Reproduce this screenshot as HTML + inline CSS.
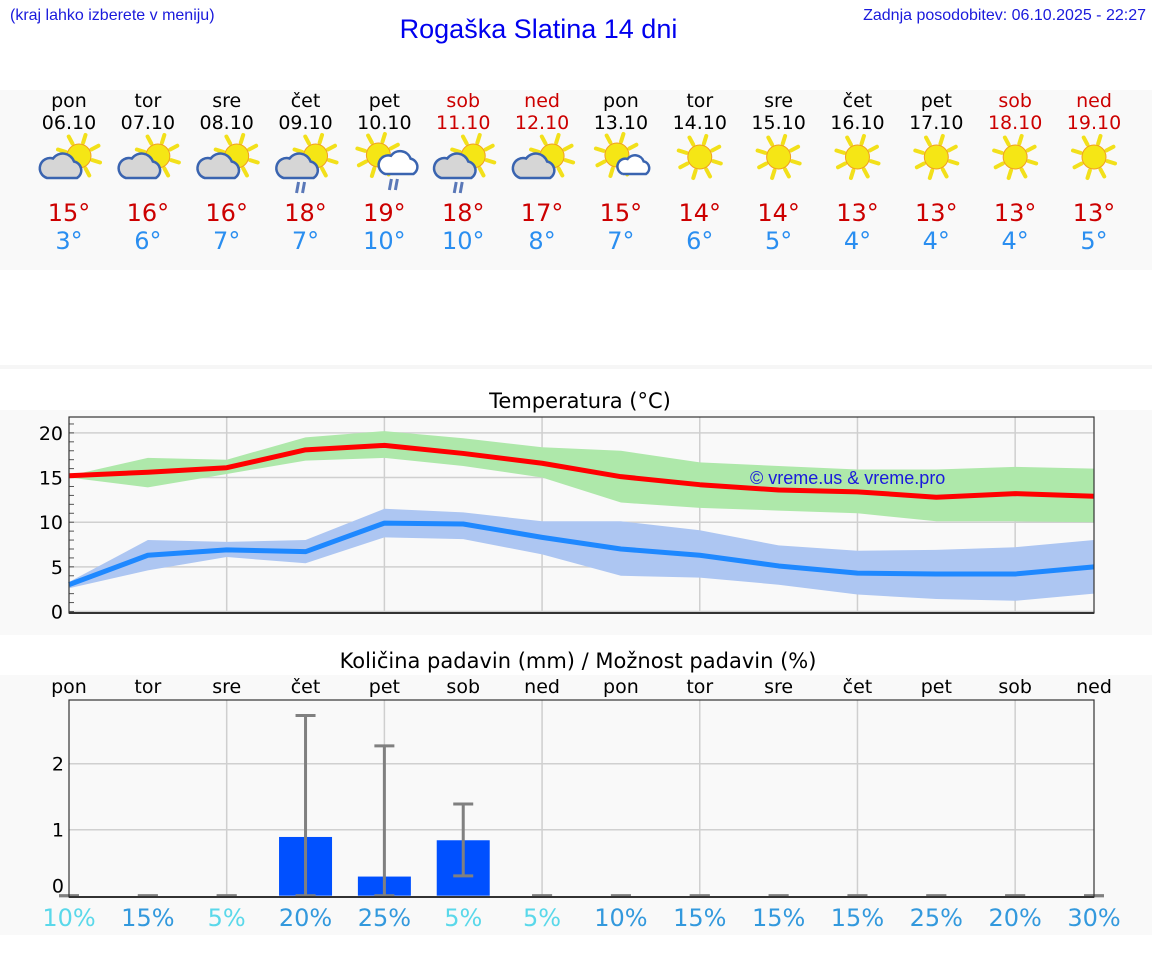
<!DOCTYPE html>
<html><head><meta charset="utf-8">
<style>
body{margin:0;width:1152px;height:975px;background:#fff;overflow:hidden;position:relative;font-family:"DejaVu Sans","Liberation Sans",sans-serif}
.h{position:absolute;font-family:"Liberation Sans",sans-serif;color:#1a1adc}
svg{position:absolute;left:0;top:0}
</style></head><body>
<div class="h" style="left:10px;top:7px;font-size:16px">(kraj lahko izberete v meniju)</div>
<div class="h" style="left:0;width:1077px;text-align:center;top:14px;font-size:27px;color:#0000ee">Rogaška Slatina 14 dni</div>
<div class="h" style="right:6px;top:7px;font-size:16px">Zadnja posodobitev: 06.10.2025 - 22:27</div>
<svg id="c" width="1152" height="975"></svg>
<script>
const days=["pon","tor","sre","čet","pet","sob","ned","pon","tor","sre","čet","pet","sob","ned"];
const dates=["06.10","07.10","08.10","09.10","10.10","11.10","12.10","13.10","14.10","15.10","16.10","17.10","18.10","19.10"];
const icons=["pc","pc","pc","pcr","scr","pcr","pc","sc","s","s","s","s","s","s"];
const tMaxLbl=[15,16,16,18,19,18,17,15,14,14,13,13,13,13];
const tMinLbl=[3,6,7,7,10,10,8,7,6,5,4,4,4,5];
const maxLine=[15.2,15.6,16.1,18.1,18.6,17.7,16.6,15.1,14.2,13.6,13.4,12.8,13.2,12.9];
const maxHi=[15.2,17.2,17.0,19.5,20.2,19.4,18.4,18.0,16.7,16.3,15.9,15.9,16.2,16.0];
const maxLo=[15.0,13.9,15.4,16.9,17.2,16.3,15.0,12.2,11.6,11.3,11.0,10.1,10.1,10.0];
const minLine=[3.0,6.3,6.9,6.7,9.9,9.8,8.3,7.0,6.3,5.1,4.3,4.2,4.2,5.0];
const minHi=[3.3,8.0,7.8,8.0,11.5,11.1,10.1,10.1,9.1,7.4,6.8,6.9,7.2,8.0];
const minLo=[2.6,4.6,6.1,5.4,8.3,8.1,6.4,4.0,3.8,3.0,1.9,1.4,1.2,2.0];
const precip=[0,0,0,0.89,0.29,0.84,0,0,0,0,0,0,0,0];
const precipHi=[0,0,0,2.73,2.27,1.39,0,0,0,0,0,0,0,0];
const precipLo=[0,0,0,0,0,0.3,0,0,0,0,0,0,0,0];
const prob=[10,15,5,20,25,5,5,10,15,15,15,25,20,30];
const probLight=[1,0,1,0,0,1,1,0,0,0,0,0,0,0];
const tTicks=[0,5,10,15,20];
const pTicks=[0,1,2];

const S=document.getElementById('c');const NS="http://www.w3.org/2000/svg";
function el(t,a,p){const e=document.createElementNS(NS,t);for(const k in a)e.setAttribute(k,a[k]);(p||S).appendChild(e);return e;}
function tx(s,a,p){const e=el('text',a,p);e.textContent=s;return e;}
const X=i=>69+i*(1025/13);
const TY=v=>611.5-v*8.93;
const PY=v=>895.7-v*66;
const red=i=>(days[i]=="sob"||days[i]=="ned");

let b;
b=el('rect',{x:0,y:90,width:1152,height:180,fill:'#f9f9f9'});
el('rect',{x:0,y:365,width:1152,height:4,fill:'#f6f6f6'});
b=el('rect',{x:0,y:410,width:1152,height:225,fill:'#f9f9f9'});
b=el('rect',{x:0,y:675,width:1152,height:260,fill:'#f9f9f9'});

function sun(g,cx,cy,r){
  for(let k=0;k<8;k++){const a=k*Math.PI/4+0.3;el('line',{x1:cx+Math.cos(a)*(r+2),y1:cy+Math.sin(a)*(r+2),x2:cx+Math.cos(a)*(r+10),y2:cy+Math.sin(a)*(r+10),stroke:'#f2e01a','stroke-width':4,'stroke-linecap':'round'},g);}
  el('circle',{cx:cx,cy:cy,r:r,fill:'#f5e615',stroke:'#f0a020','stroke-width':1},g);
}
function cloud(g,x,y,s,fill){
  el('path',{d:`M${x} ${y} h${20*s} a${6*s} ${6*s} 0 0 0 ${-2*s} ${-11*s} a${8*s} ${8*s} 0 0 0 ${-14*s} ${-2*s} a${6*s} ${6*s} 0 0 0 ${-4*s} ${13*s}z`,fill:fill,stroke:'#3a64b0','stroke-width':2.5},g);
}
for(let i=0;i<14;i++){
  const cx=X(i);
  const g=el('g',{});
  const col=red(i)?'#cc0000':'#000';
  tx(days[i],{x:cx,y:107,'text-anchor':'middle','font-size':19,fill:col},g);
  tx(dates[i],{x:cx,y:129,'text-anchor':'middle','font-size':19,fill:col},g);
  const ic=el('g',{},g);
  const t=icons[i];
  if(t=="pc"||t=="pcr"){sun(ic,cx+10,156,12);cloud(ic,cx-22,178,1.5,'#d6d6d6');}
  if(t=="pcr"){el('path',{d:`M${cx-7} 182 l-2 11 M${cx-1} 182 l-2 11`,stroke:'#5a78b8','stroke-width':3},ic);}
  if(t=="scr"){sun(ic,cx-6,155,12);cloud(ic,cx+1,174,1.4,'#fff');el('path',{d:`M${cx+7} 179 l-2 11 M${cx+13} 179 l-2 11`,stroke:'#5a78b8','stroke-width':3},ic);}
  if(t=="sc"){sun(ic,cx-4,155,12);cloud(ic,cx+2,174,1.15,'#fff');}
  if(t=="s"){sun(ic,cx,157,12);}
  tx(tMaxLbl[i]+'°',{x:cx,y:221,'text-anchor':'middle','font-size':24,fill:'#cc0000'},g);
  tx(tMinLbl[i]+'°',{x:cx,y:249,'text-anchor':'middle','font-size':24,fill:'#2a8ef0'},g);
}

tx('Temperatura (°C)',{x:580,y:408,'text-anchor':'middle','font-size':21,fill:'#000'});
const tp=el('g',{});
tTicks.forEach(v=>{el('line',{x1:69,x2:1094,y1:TY(v),y2:TY(v),stroke:'#d0d0d0','stroke-width':1.5},tp);
  const l=tx(v,{x:63,y:TY(v)+7,'text-anchor':'end','font-size':19,fill:'#000'},tp);});
for(let v=0;v<=21;v++)el('line',{x1:69,x2:74,y1:TY(v),y2:TY(v),stroke:'#555','stroke-width':1},tp);
for(let i=2;i<14;i+=2)el('line',{x1:X(i),x2:X(i),y1:417,y2:613,stroke:'#cfcfcf','stroke-width':1.5},tp);
function band(hi,lo,fill,name){let d='';hi.forEach((v,i)=>d+=(i?'L':'M')+X(i)+' '+TY(v));for(let i=lo.length-1;i>=0;i--)d+='L'+X(i)+' '+TY(lo[i]);const p=el('path',{d:d+'Z',fill:fill},tp);}
function line(v,c,name){const p=el('polyline',{points:v.map((y,i)=>X(i)+','+TY(y)).join(' '),fill:'none',stroke:c,'stroke-width':5,'stroke-linejoin':'round'},tp);}
band(maxHi,maxLo,'#aee8aa','max-temp-range');
band(minHi,minLo,'#adc6f2','min-temp-range');
line(maxLine,'#ff0000','max-temp-line');
line(minLine,'#1e88ff','min-temp-line');
el('rect',{x:69,y:417,width:1025,height:196,fill:'none',stroke:'#333','stroke-width':1.2},tp);
el('line',{x1:69,x2:1094,y1:613,y2:613,stroke:'#333','stroke-width':2},tp);
const wm=tx('© vreme.us & vreme.pro',{x:750,y:484,'font-size':18,fill:'#1a1adc','font-family':'Liberation Sans, sans-serif'});

tx('Količina padavin (mm) / Možnost padavin (%)',{x:578,y:668,'text-anchor':'middle','font-size':21,fill:'#000'});
const pp=el('g',{});
for(let i=0;i<14;i++)tx(days[i],{x:X(i),y:693,'text-anchor':'middle','font-size':19,fill:'#000'},pp);
pTicks.forEach(v=>{if(v)el('line',{x1:69,x2:1094,y1:PY(v),y2:PY(v),stroke:'#d0d0d0','stroke-width':1.5},pp);
  tx(v,{x:64,y:PY(v)+(v?7:-3),'text-anchor':'end','font-size':19,fill:'#000'},pp);});
for(let i=2;i<14;i+=2)el('line',{x1:X(i),x2:X(i),y1:700,y2:897,stroke:'#cfcfcf','stroke-width':1.5},pp);
for(let i=0;i<14;i++){
  const r=el('rect',{x:X(i)-26.5,y:PY(precip[i]),width:53,height:PY(0)-PY(precip[i]),fill:'#0050ff'},pp);
  
  const e=el('g',{stroke:'#808080','stroke-width':3},pp);
  el('line',{x1:X(i),x2:X(i),y1:PY(precipHi[i]),y2:PY(precipLo[i])},e);
  el('line',{x1:X(i)-10,x2:X(i)+10,y1:PY(precipHi[i]),y2:PY(precipHi[i])},e);
  el('line',{x1:X(i)-10,x2:X(i)+10,y1:PY(precipLo[i]),y2:PY(precipLo[i])},e);
  const pl=tx(prob[i]+'%',{x:X(i),y:926,'text-anchor':'middle','font-size':24,fill:probLight[i]?'#5ad8ea':'#3399dd'},pp);
  
}
el('rect',{x:69,y:700,width:1025,height:197,fill:'none',stroke:'#333','stroke-width':1.2},pp);
el('line',{x1:69,x2:1094,y1:897,y2:897,stroke:'#333','stroke-width':2},pp);
</script>
</body></html>
